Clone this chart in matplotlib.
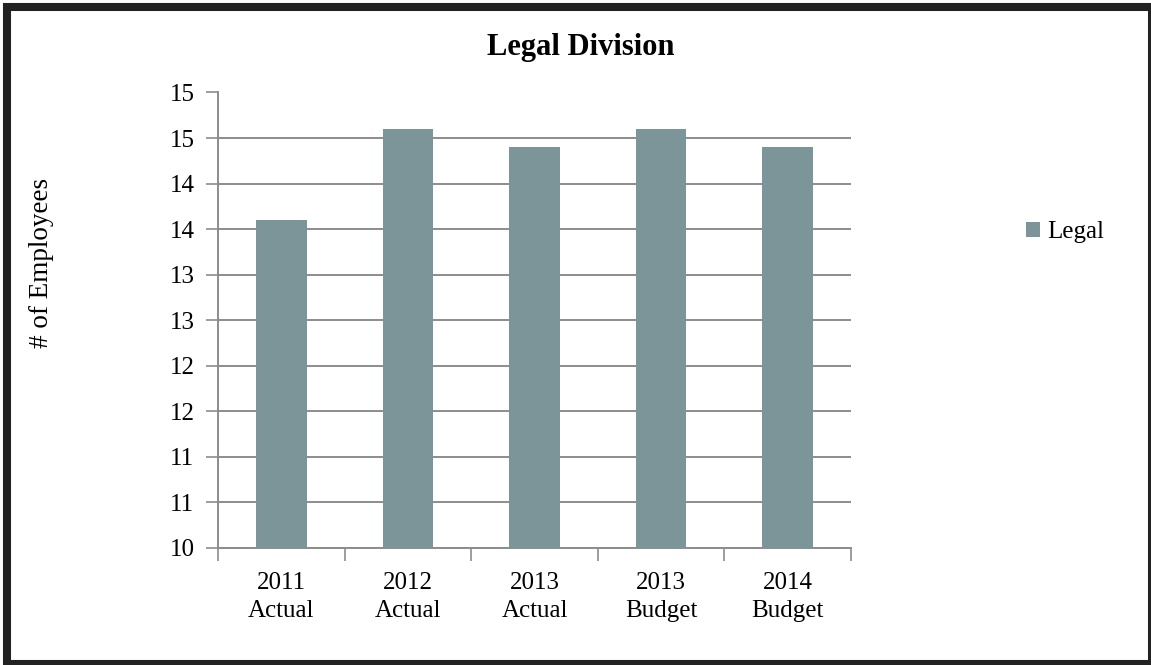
import math
import matplotlib
matplotlib.use("Agg")
import matplotlib.pyplot as plt
from matplotlib.patches import Rectangle
from matplotlib.ticker import FuncFormatter

categories = ["2011\nActual", "2012\nActual", "2013\nActual", "2013\nBudget", "2014\nBudget"]
legal = [13.6, 14.6, 14.4, 14.6, 14.4]
y_ticks = [10, 10.5, 11, 11.5, 12, 12.5, 13, 13.5, 14, 14.5, 15]

plt.rcParams["font.family"] = ["Liberation Serif", "DejaVu Serif"]

bar_color = "#7b9599"
grid_color = "#8c8c8c"

fig = plt.figure(figsize=(11.51, 6.65), dpi=100)
ax = fig.add_axes([218 / 1151, 1 - 548 / 665, 633 / 1151, 455.5 / 665])

x = list(range(len(categories)))
ax.bar(x, legal, width=0.4, color=bar_color, label="Legal", zorder=3)

ax.set_ylim(10, 15)
ax.set_xlim(-0.5, len(categories) - 0.5)
ax.set_yticks(y_ticks)
# Excel style "0" number format: 10.5 shows as 11
ax.yaxis.set_major_formatter(FuncFormatter(lambda v, p: str(math.floor(v + 0.5))))
ax.yaxis.grid(True, color=grid_color, linewidth=1.4, zorder=0)
ax.set_axisbelow(True)

# tick marks sit between categories, labels at the centres
ax.set_xticks([i - 0.5 for i in range(len(categories) + 1)])
ax.set_xticklabels([])
ax.set_xticks(x, minor=True)
ax.set_xticklabels(categories, minor=True, fontsize=18, linespacing=1.35)
ax.tick_params(axis="x", which="minor", length=0, pad=17)
ax.tick_params(axis="x", which="major", length=9, width=1.2, color=grid_color)
ax.tick_params(axis="y", length=9, width=1.2, color=grid_color, labelsize=18, pad=8)

for side in ["top", "right"]:
    ax.spines[side].set_visible(False)
for side in ["left", "bottom"]:
    ax.spines[side].set_color(grid_color)
    ax.spines[side].set_linewidth(1.4)

fig.text(581 / 1151, 1 - 47 / 665, "Legal Division", ha="center", va="center",
         fontsize=22, fontweight="bold")
fig.text(42 / 1151, 1 - 263 / 665, "# of Employees", ha="center", va="center",
         rotation=90, fontsize=19.5)

fig.legend(loc="center left", bbox_to_anchor=(1026 / 1151, 1 - 232 / 665),
           frameon=False, fontsize=18, handlelength=0.55, handleheight=0.55,
           handletextpad=0.3, borderaxespad=0, borderpad=0)

# dark frame round the whole chart
fig.patches.append(Rectangle((7 / 1151, 1.5 / 665), 1145 / 1151, 657 / 665,
                             transform=fig.transFigure, fill=False,
                             edgecolor="#222222", linewidth=5.8))

fig.savefig("out.png", dpi=100)
